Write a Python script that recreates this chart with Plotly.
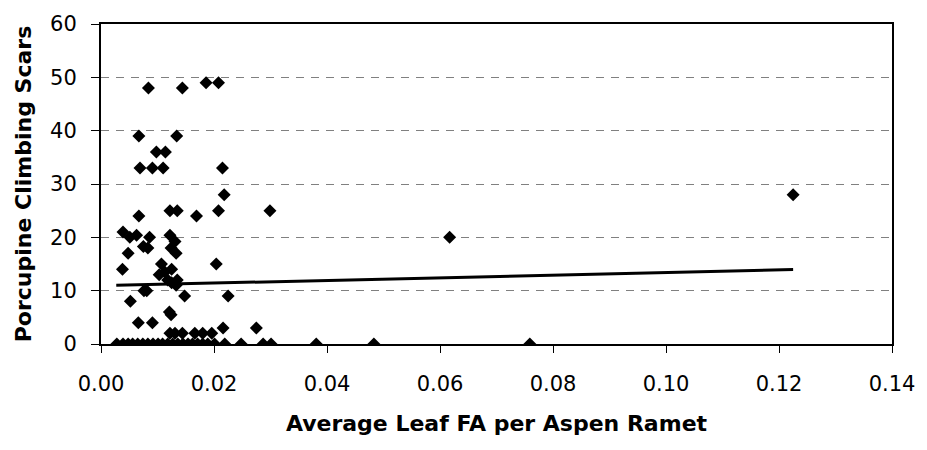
import plotly.graph_objects as go

# Average Leaf FA per Aspen Ramet (x) vs Porcupine Climbing Scars (y)
fa = [
    # zeros
    0.0028, 0.0039, 0.0048, 0.0056, 0.0065, 0.0074, 0.0083, 0.0092, 0.0101,
    0.0109, 0.0118, 0.0127, 0.0136, 0.0145, 0.0154, 0.0162, 0.0171, 0.0180,
    0.0189, 0.0201, 0.0219, 0.0248, 0.0287, 0.0301, 0.0381, 0.0483, 0.0759,
    # low values
    0.0122, 0.0131, 0.0144, 0.0166, 0.0180, 0.0196, 0.0216, 0.0275,
    0.0066, 0.0091, 0.0121, 0.0124, 0.0052, 0.0148, 0.0225, 0.0076, 0.0081,
    # middle values
    0.0118, 0.0125, 0.0135, 0.0133, 0.0103, 0.0113, 0.0038, 0.0125,
    0.0107, 0.0204, 0.0048, 0.0133, 0.0075, 0.0083, 0.0124, 0.0131,
    0.0051, 0.0063, 0.0086, 0.0122, 0.0617, 0.0039,
    # high values
    0.0067, 0.0169, 0.0122, 0.0135, 0.0208, 0.0299, 0.0218, 0.1225,
    0.0069, 0.0091, 0.0110, 0.0215, 0.0098, 0.0114, 0.0067, 0.0134,
    0.0084, 0.0144, 0.0186, 0.0208,
]
scars = [
    0, 0, 0, 0, 0, 0, 0, 0, 0,
    0, 0, 0, 0, 0, 0, 0, 0, 0,
    0, 0, 0, 0, 0, 0, 0, 0, 0,
    2, 2, 2, 2, 2, 2, 3, 3,
    4, 4, 6, 5.5, 8, 9, 9, 10, 10,
    12, 11.5, 12, 11, 13, 13.5, 14, 14,
    15, 15, 17, 17, 18.3, 18, 18, 19.2,
    20, 20.4, 20, 20.4, 20, 21,
    24, 24, 25, 25, 25, 25, 28, 28,
    33, 33, 33, 33, 36, 36, 39, 39,
    48, 48, 49, 49,
]

# Linear trend line endpoints
trend_x = [0.0027, 0.1225]
trend_y = [11.0, 13.95]

x_ticks = [0.00, 0.02, 0.04, 0.06, 0.08, 0.10, 0.12, 0.14]
x_tick_labels = ["0.00", "0.02", "0.04", "0.06", "0.08", "0.10", "0.12", "0.14"]
y_ticks = [0, 10, 20, 30, 40, 50, 60]

FONT = "DejaVu Sans, Liberation Sans, Arial, sans-serif"

fig = go.Figure()
fig.add_trace(go.Scatter(
    x=fa, y=scars, mode="markers",
    marker=dict(symbol="diamond", size=10, color="black", line=dict(width=0)),
    showlegend=False, hoverinfo="x+y",
))
fig.add_trace(go.Scatter(
    x=trend_x, y=trend_y, mode="lines",
    line=dict(color="black", width=3),
    showlegend=False,
))

fig.update_layout(
    width=927, height=450,
    margin=dict(l=101, r=33, t=20, b=106),
    paper_bgcolor="white", plot_bgcolor="white",
    font=dict(family=FONT, color="black", size=21),
)
fig.update_xaxes(
    range=[0, 0.14], tickvals=x_ticks, ticktext=x_tick_labels,
    showline=True, linecolor="black", linewidth=2, mirror=True,
    ticks="outside", ticklen=7, tickcolor="black", tickwidth=1,
    ticklabelstandoff=13,
    showgrid=False, zeroline=False,
    tickfont=dict(family=FONT, size=21),
    title=dict(text="<b>Average Leaf FA per Aspen Ramet</b>",
               font=dict(family=FONT, size=22), standoff=20),
)
fig.update_yaxes(
    range=[0, 60], tickvals=y_ticks,
    showline=True, linecolor="black", linewidth=2, mirror=True,
    ticks="outside", ticklen=8, tickcolor="black", tickwidth=1,
    ticklabelstandoff=10,
    showgrid=True, gridcolor="#808080", gridwidth=1, griddash="8px,7px",
    zeroline=False,
    tickfont=dict(family=FONT, size=21),
    title=dict(text="<b>Porcupine Climbing Scars</b>",
               font=dict(family=FONT, size=22), standoff=12),
)

fig.write_html("out.html")
